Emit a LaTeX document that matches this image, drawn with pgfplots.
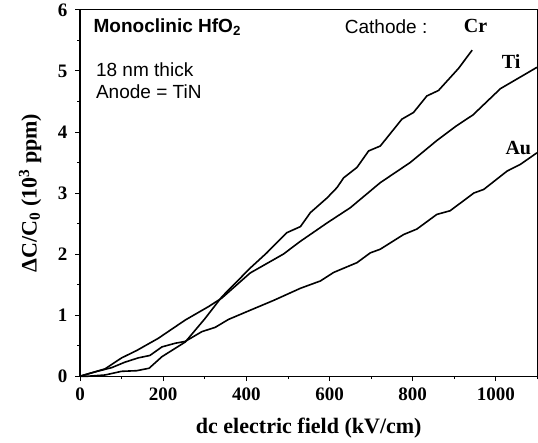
\documentclass[border=0pt]{standalone}
\usepackage{fontspec}
\setmainfont{Liberation Serif}
\setsansfont{Liberation Sans}
\usepackage{pgfplots}
\pgfplotsset{compat=1.18}
\begin{document}
\begin{tikzpicture}
\begin{axis}[
  scale only axis,
  width=457pt, height=366pt,
  xmin=0, xmax=1100, ymin=0, ymax=6,
  xtick={0,200,400,600,800,1000},
  ytick={0,1,2,3,4,5,6},
  minor xtick={100,300,500,700,900,1100},
  minor ytick={0.5,1.5,2.5,3.5,4.5,5.5},
  tick align=outside,
  xtick pos=bottom, ytick pos=left,
  major tick length=5pt, minor tick length=3pt,
  every tick/.style={black, line width=0.9pt},
  axis line style={line width=1.1pt},
  /pgf/number format/assume math mode=true,
  /pgf/number format/1000 sep={},
  tick label style={font=\bfseries\fontsize{19}{21}\selectfont},
  xticklabel style={yshift=-3pt},
  yticklabel style={xshift=-4pt},
  xlabel={\textbf{dc electric field (kV/cm)}},
  ylabel={\textbf{ΔC/C\textsubscript{0} (10\textsuperscript{3} ppm)}},
  label style={font=\fontsize{22}{24}\selectfont},
  xlabel style={at={(axis description cs:0.5,-0.142)}, anchor=center},
  ylabel style={at={(axis description cs:-0.109,0.5)}, anchor=center},
  clip=false,
]
\path (axis description cs:-0.175,-0.180) (axis description cs:1,1.027);
% Cr
\addplot[black, line width=1.6pt, line join=round] coordinates {
(0,0) (20,0) (60,0.02) (100,0.08) (136,0.09) (166,0.13) (197,0.32) (253,0.56)
(300,0.94) (341,1.30) (409,1.77) (449,2.02) (497,2.35) (530,2.45) (554,2.68)
(594,2.92) (618,3.09) (634,3.25) (666,3.42) (694,3.69) (722,3.77) (774,4.21)
(802,4.32) (834,4.59) (862,4.68) (910,5.04) (943,5.34)
};
% Ti
\addplot[black, line width=1.6pt, line join=round] coordinates {
(0,0) (60,0.12) (100,0.30) (136,0.42) (188,0.62) (253,0.92) (309,1.14)
(341,1.28) (409,1.69) (489,2.00) (530,2.21) (594,2.51) (650,2.76) (722,3.17)
(794,3.50) (858,3.86) (905,4.10) (945,4.28) (1011,4.71) (1099,5.06)
};
% Au
\addplot[black, line width=1.6pt, line join=round] coordinates {
(0,0) (36,0.07) (76,0.14) (108,0.23) (140,0.30) (168,0.34) (197,0.48)
(229,0.54) (253,0.57) (293,0.73) (325,0.80) (357,0.93) (409,1.08) (465,1.24)
(530,1.44) (578,1.56) (610,1.70) (666,1.86) (698,2.02) (722,2.08) (778,2.32)
(810,2.41) (858,2.65) (890,2.71) (947,3.00) (971,3.06) (1027,3.36) (1059,3.47)
(1099,3.66)
};
\node[anchor=west, font=\sffamily\bfseries\fontsize{19}{21}\selectfont] at (axis cs:24,5.72) {Monoclinic HfO\textsubscript{2}};
\node[anchor=west, font=\sffamily\fontsize{19}{21}\selectfont] at (axis cs:30,5.02) {18 nm thick};
\node[anchor=west, font=\sffamily\fontsize{19}{21}\selectfont] at (axis cs:30,4.66) {Anode = TiN};
\node[font=\sffamily\fontsize{19}{21}\selectfont] at (axis cs:736,5.72) {Cathode :};
\node[font=\bfseries\fontsize{20}{22}\selectfont] at (axis cs:951,5.73) {Cr};
\node[font=\bfseries\fontsize{20}{22}\selectfont] at (axis cs:1037,5.16) {Ti};
\node[font=\bfseries\fontsize{20}{22}\selectfont] at (axis cs:1054,3.74) {Au};
\end{axis}
\end{tikzpicture}
\end{document}
